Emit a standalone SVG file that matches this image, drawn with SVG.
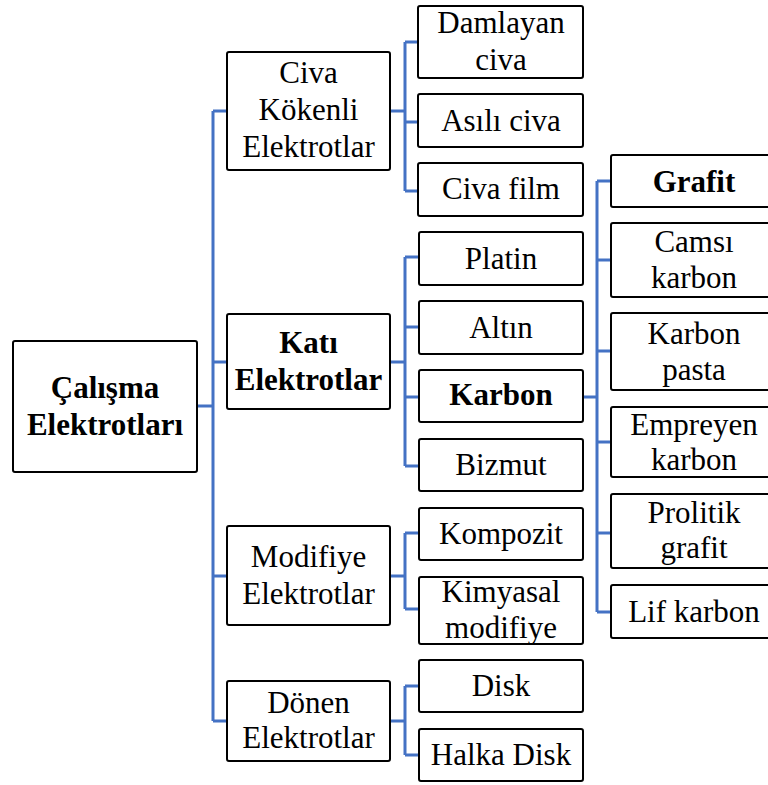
<svg xmlns="http://www.w3.org/2000/svg" width="768" height="785" viewBox="0 0 768 785">
<style>
.box{fill:#fff;stroke:#000;stroke-width:2}
.t{font-family:'Liberation Serif','Tinos','DejaVu Serif','Noto Serif',serif;font-size:31px;fill:#000;text-anchor:middle}
.b{font-weight:bold}
.c{fill:none;stroke:#4472C4;stroke-width:3}
</style>
<rect width="768" height="785" fill="#fff"/>
<g id="connectors">
<path class="c" d="M197,406 H213 M213,111 V721 M213,111 H227 M213,362 H227 M213,576 H227 M213,721 H227"/>
<path class="c" d="M390,111 H405 M405,42 V191 M405,42 H418 M405,122 H418 M405,191 H418"/>
<path class="c" d="M390,362 H405 M405,257 V466 M405,257 H419 M405,327 H419 M405,397 H419 M405,466 H419"/>
<path class="c" d="M583,397 H597 M597,181 V612 M597,181 H611 M597,260 H611 M597,351 H611 M597,442 H611 M597,533 H611 M597,612 H611"/>
<path class="c" d="M390,576 H405 M405,533 V609 M405,533 H419 M405,609 H419"/>
<path class="c" d="M390,721 H405 M405,686 V755 M405,686 H419 M405,755 H419"/>
</g>
<g id="root"><rect class="box" x="13" y="341" width="184" height="131" rx="2"/><text class="t b" x="105" y="398">Çalışma</text><text class="t b" x="105" y="435">Elektrotları</text></g>
<g id="civa"><rect class="box" x="227" y="52" width="163" height="118" rx="2"/><text class="t" x="308.5" y="83">Civa</text><text class="t" x="308.5" y="120">Kökenli</text><text class="t" x="308.5" y="157">Elektrotlar</text></g>
<g id="kati"><rect class="box" x="227" y="314" width="163" height="95" rx="2"/><text class="t b" x="308.5" y="353">Katı</text><text class="t b" x="308.5" y="390">Elektrotlar</text></g>
<g id="modifiye"><rect class="box" x="227" y="526" width="163" height="99" rx="2"/><text class="t" x="308.5" y="567">Modifiye</text><text class="t" x="308.5" y="604">Elektrotlar</text></g>
<g id="donen"><rect class="box" x="227" y="681" width="163" height="80" rx="2"/><text class="t" x="308.5" y="713">Dönen</text><text class="t" x="308.5" y="748">Elektrotlar</text></g>
<g id="damlayan"><rect class="box" x="418" y="6" width="165" height="72" rx="2"/><text class="t" x="501" y="33">Damlayan</text><text class="t" x="501" y="70">civa</text></g>
<g id="asili"><rect class="box" x="418" y="94" width="165" height="53" rx="2"/><text class="t" x="501" y="131">Asılı civa</text></g>
<g id="civafilm"><rect class="box" x="418" y="163" width="165" height="53" rx="2"/><text class="t" x="501" y="199">Civa film</text></g>
<g id="platin"><rect class="box" x="419" y="232" width="164" height="53" rx="2"/><text class="t" x="501" y="269">Platin</text></g>
<g id="altin"><rect class="box" x="419" y="301" width="164" height="53" rx="2"/><text class="t" x="501" y="338">Altın</text></g>
<g id="karbon"><rect class="box" x="419" y="370" width="164" height="52" rx="2"/><text class="t b" x="501" y="405">Karbon</text></g>
<g id="bizmut"><rect class="box" x="419" y="439" width="164" height="52" rx="2"/><text class="t" x="501" y="475">Bizmut</text></g>
<g id="kompozit"><rect class="box" x="419" y="508" width="164" height="52" rx="2"/><text class="t" x="501" y="544">Kompozit</text></g>
<g id="kimyasal"><rect class="box" x="419" y="577" width="164" height="67" rx="2"/><text class="t" x="501" y="602">Kimyasal</text><text class="t" x="501" y="638">modifiye</text></g>
<g id="disk"><rect class="box" x="419" y="660" width="164" height="52" rx="2"/><text class="t" x="501" y="696">Disk</text></g>
<g id="halka"><rect class="box" x="419" y="729" width="164" height="52" rx="2"/><text class="t" x="501" y="765">Halka Disk</text></g>
<g id="grafit"><rect class="box" x="611" y="155" width="170" height="52" rx="2"/><text class="t b" x="694" y="192">Grafit</text></g>
<g id="camsi"><rect class="box" x="611" y="223" width="170" height="74" rx="2"/><text class="t" x="694" y="252">Camsı</text><text class="t" x="694" y="288">karbon</text></g>
<g id="pasta"><rect class="box" x="611" y="313" width="170" height="77" rx="2"/><text class="t" x="694" y="344">Karbon</text><text class="t" x="694" y="380">pasta</text></g>
<g id="empreyen"><rect class="box" x="611" y="407" width="170" height="70" rx="2"/><text class="t" x="694" y="435">Empreyen</text><text class="t" x="694" y="470">karbon</text></g>
<g id="prolitik"><rect class="box" x="611" y="494" width="170" height="74" rx="2"/><text class="t" x="694" y="523">Prolitik</text><text class="t" x="694" y="558">grafit</text></g>
<g id="lif"><rect class="box" x="611" y="585" width="170" height="53" rx="2"/><text class="t" x="694" y="622">Lif karbon</text></g>
</svg>
